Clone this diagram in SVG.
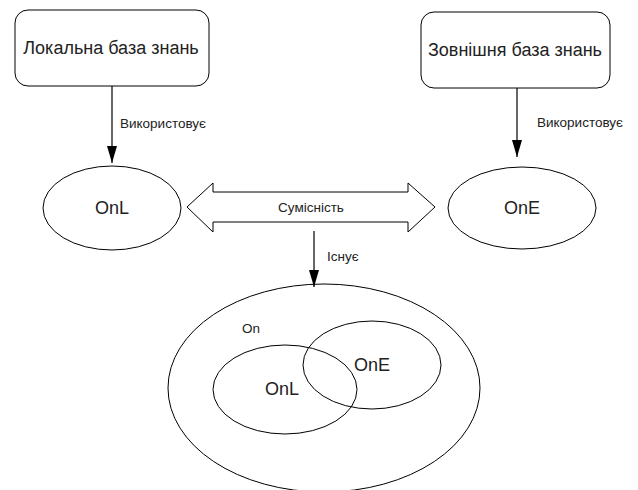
<svg xmlns="http://www.w3.org/2000/svg" width="638" height="490" viewBox="0 0 638 490">
<defs>
<marker id="ah" markerWidth="17" markerHeight="10" refX="17" refY="5" orient="auto" markerUnits="userSpaceOnUse" viewBox="0 0 17 10">
<path d="M0,0 L17,5 L0,10 Z" fill="#000"/>
</marker>
</defs>
<style>
.s{fill:#fff;stroke:#000;stroke-width:1}
.t{font-family:"Liberation Sans",Arial,sans-serif;fill:#222;text-anchor:middle}
.b{font-size:18px}
.l{font-size:13.5px;text-anchor:start}
.c{stroke:#000;stroke-width:1.2;fill:none}
</style>
<rect width="638" height="490" fill="#fff"/>
<g id="local-kb">
<rect class="s" x="15" y="10" width="194" height="76" rx="13"/>
<text class="t b" x="111" y="54">Локальна база знань</text>
</g>
<g id="external-kb">
<rect class="s" x="421" y="12" width="189" height="76" rx="13"/>
<text class="t b" x="515" y="56">Зовнішня база знань</text>
</g>
<g id="onl">
<ellipse class="s" cx="112" cy="208" rx="69" ry="42"/>
<text class="t b" x="112" y="214">OnL</text>
</g>
<g id="one">
<ellipse class="s" cx="522" cy="208" rx="74" ry="41"/>
<text class="t b" x="522" y="214">OnE</text>
</g>
<g id="on">
<ellipse class="s" cx="324" cy="388" rx="156" ry="104"/>
<text class="t l" x="242" y="333">On</text>
<ellipse fill="none" stroke="#000" cx="285" cy="389.5" rx="72" ry="44.5"/>
<ellipse fill="none" stroke="#000" cx="372" cy="365" rx="69" ry="44"/>
<text class="t b" x="282" y="395">OnL</text>
<text class="t b" x="372" y="371">OnE</text>
</g>
<g id="connectors">
<line class="c" x1="112" y1="86" x2="112" y2="163" marker-end="url(#ah)"/>
<text class="t l" x="120" y="128">Використовує</text>
<line class="c" x1="517" y1="88" x2="517" y2="157" marker-end="url(#ah)"/>
<text class="t l" x="537" y="127">Використовує</text>
<path class="s" d="M187,207 L213,183 L213,192 L408,192 L408,183 L435,207 L408,232 L408,222 L213,222 L213,232 Z"/>
<text class="t" x="311" y="212" font-size="13.5">Сумісність</text>
<line class="c" x1="314" y1="231" x2="314" y2="287" marker-end="url(#ah)"/>
<text class="t l" x="327" y="261">Існує</text>
</g>
</svg>
